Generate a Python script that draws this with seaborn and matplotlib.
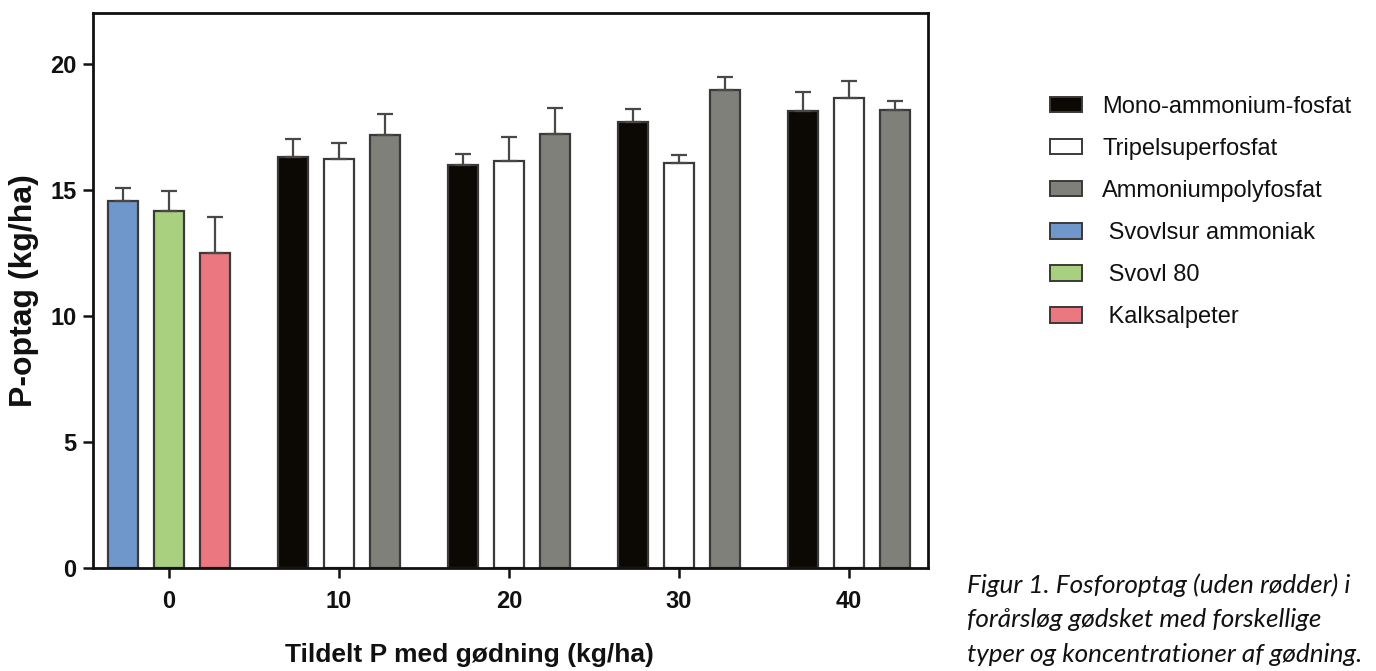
import numpy as np
import pandas as pd
import matplotlib
matplotlib.use("Agg")
import matplotlib.pyplot as plt
from matplotlib.patches import Patch
import seaborn as sns

# --- data ---
doses = [0, 10, 20, 30, 40]
series_0 = ["Svovlsur ammoniak", "Svovl 80", "Kalksalpeter"]
series_p = ["Mono-ammonium-fosfat", "Tripelsuperfosfat", "Ammoniumpolyfosfat"]

values_0 = [14.55, 14.17, 12.47]
errors_0 = [0.50, 0.78, 1.45]

mono = [16.30, 15.98, 17.67, 18.11]
mono_err = [0.70, 0.42, 0.52, 0.75]
tripel = [16.22, 16.14, 16.06, 18.62]
tripel_err = [0.64, 0.94, 0.32, 0.67]
apoly = [17.15, 17.22, 18.97, 18.15]
apoly_err = [0.85, 1.00, 0.48, 0.35]

colors = {
    "Mono-ammonium-fosfat": "#0c0803",
    "Tripelsuperfosfat": "#ffffff",
    "Ammoniumpolyfosfat": "#80807a",
    "Svovlsur ammoniak": "#6f97cb",
    "Svovl 80": "#a8d07e",
    "Kalksalpeter": "#eb7780",
}

# slot spacing inside a dose group (in x units)
slot = 2.7

rows = []
for i, name in enumerate(series_0):
    rows.append((doses[0], i, name, values_0[i], errors_0[i]))
for j, d in enumerate(doses[1:]):
    for i, (name, vals, errs) in enumerate(zip(series_p, [mono, tripel, apoly],
                                                [mono_err, tripel_err, apoly_err])):
        rows.append((d, i, name, vals[j], errs[j]))
df = pd.DataFrame(rows, columns=["dose", "slot", "series", "value", "err"])
df["pos"] = df["dose"] + (df["slot"] - 1) * slot

sns.set_theme(style="ticks")
plt.rcParams["font.family"] = ["Liberation Sans", "DejaVu Sans"]
plt.rcParams["text.color"] = "#111111"
plt.rcParams["axes.labelcolor"] = "#111111"
plt.rcParams["xtick.color"] = "#111111"
plt.rcParams["ytick.color"] = "#111111"

fig = plt.figure(figsize=(13.76, 6.71), dpi=100)
ax = fig.add_axes([0.0676, 0.1535, 0.6068, 0.827])

sns.barplot(data=df, x="pos", y="value", hue="series", palette=colors,
            native_scale=True, dodge=False, width=0.652, legend=False,
            saturation=1, edgecolor="#3a3a3a", linewidth=1.6, errorbar=None,
            ax=ax)

ax.errorbar(df["pos"], df["value"], yerr=[np.zeros(len(df)), df["err"]],
            fmt="none", ecolor="#4a4744", elinewidth=1.6, capsize=6,
            capthick=1.6, zorder=1)

ax.set_xlim(-4.47, 44.65)
ax.set_ylim(0, 22)
ax.set_xticks(doses)
ax.set_yticks([0, 5, 10, 15, 20])
ax.set_xticklabels([str(d) for d in doses], fontsize=17, fontweight="bold")
ax.set_yticklabels(["0", "5", "10", "15", "20"], fontsize=17, fontweight="bold")
ax.tick_params(axis="both", length=7, width=1.8)
ax.tick_params(axis="x", pad=9)
ax.tick_params(axis="y", pad=5)
for sp in ax.spines.values():
    sp.set_visible(True)
    sp.set_linewidth(2.0)
    sp.set_color("#111111")

ax.set_xlabel("Tildelt P med gødning (kg/ha)", fontsize=19, fontweight="bold")
ax.xaxis.set_label_coords(0.451, -0.135)
ax.set_ylabel("P-optag (kg/ha)", fontsize=23, fontweight="bold", labelpad=8)

order = series_p + series_0
labels = [n if n in series_p else " " + n for n in order]
handles = [Patch(facecolor=colors[n], edgecolor="#3a3a3a", linewidth=1.4)
           for n in order]
fig.legend(handles, labels, loc="upper left", bbox_to_anchor=(0.763, 0.857),
           frameon=False, fontsize=17, handlelength=1.36, handleheight=0.62,
           handletextpad=0.85, labelspacing=0.85, borderpad=0, borderaxespad=0)

fig.text(0.7027, 1 - 573 / 671,
         "Figur 1. Fosforoptag (uden rødder) i\n"
         "forårsløg gødsket med forskellige\n"
         "typer og koncentrationer af gødning.",
         ha="left", va="top", fontsize=18.8, style="italic",
         family=["Lato", "DejaVu Sans"], linespacing=1.62)

fig.savefig("out.png", dpi=100)
